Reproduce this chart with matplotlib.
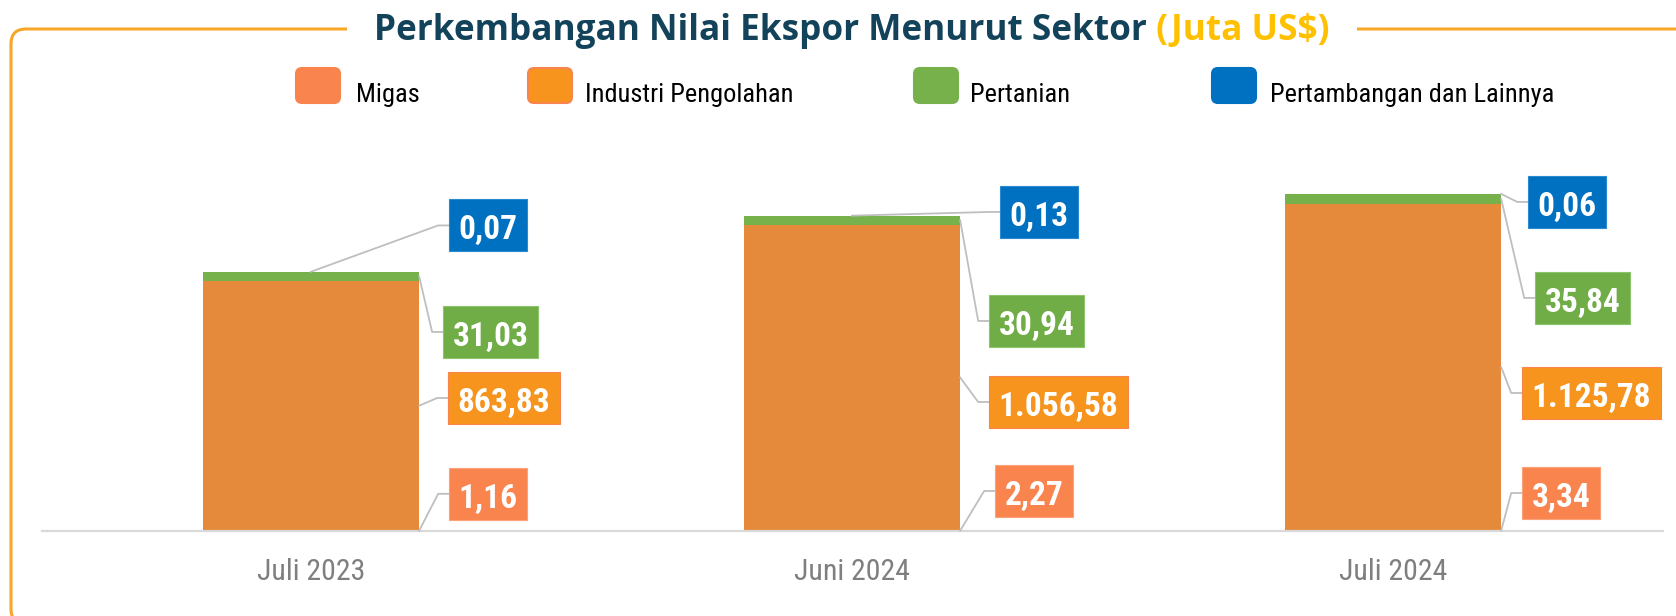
import matplotlib
matplotlib.use("Agg")
import matplotlib.pyplot as plt
from matplotlib.patches import FancyBboxPatch, Rectangle
from matplotlib.lines import Line2D
from matplotlib.transforms import IdentityTransform

# ---------------- data ----------------
categories = ["Juli 2023", "Juni 2024", "Juli 2024"]
series_names = ["Migas", "Industri Pengolahan", "Pertanian", "Pertambangan dan Lainnya"]
migas = [1.16, 2.27, 3.34]
industri = [863.83, 1056.58, 1125.78]
pertanian = [31.03, 30.94, 35.84]
pertambangan = [0.07, 0.13, 0.06]
title_main = "Perkembangan Nilai Ekspor Menurut Sektor"
title_unit = " (Juta US$)"

# ---------------- style / layout ----------------
W, H, DPI = 1676, 616, 100
NARROW = ["Roboto Condensed", "DejaVu Sans"]
bar_colors = ["#F9844E", "#E48A3A", "#76B14C", "#0070C0"]
box_colors = ["#F9844E", "#F7941D", "#70AD47", "#0070C0"]
box_edges = ["#FBA27A", "#F9844E", "#8CC46A", "#2A8AD0"]
legend_face = ["#F9844E", "#F7941D", "#76B14C", "#0070C0"]
legend_edge = ["#F9844E", "#F9844E", "#76B14C", "#0070C0"]
frame_color = "#F8A62A"
title_color = "#12435A"
unit_color = "#FFC000"

# label offsets (pixels): dx from bar right edge, dy from anchor (up positive)
label_dx = [[30, 35, 21], [29, 29, 21], [24, 29, 34], [30, 40, 27]]
label_dy = [[37, 39.7, 37.5], [7.7, -24.5, -25.8], [-55.7, -100.8, -98.8], [46.3, 3.7, -8]]
anchor_center = [[False] * 3, [False] * 3, [False] * 3, [True, True, False]]
PADX, BOX_H, ELBOW = 9.5, 52, 11
LABEL_FS = 24

ID = IdentityTransform()


def Y(y_img):
    return H - y_img


def fmt_id(v):
    s = f"{v:,.2f}"
    return s.replace(",", "_").replace(".", ",").replace("_", ".")


fig = plt.figure(figsize=(W / DPI, H / DPI), dpi=DPI)

# frame
frame = FancyBboxPatch((11, Y(624)), 1720, 624 - 29, boxstyle="round,pad=0,rounding_size=15",
                       transform=ID, fill=False, edgecolor=frame_color, lw=2.2, zorder=1)
fig.add_artist(frame)
fig.add_artist(Rectangle((347, Y(48)), 1357 - 347, 36, transform=ID, facecolor="white",
                         edgecolor="none", zorder=2))

# axes
ax_l, ax_r, ax_b, ax_t = 42, 1663, 531, 130
ax = fig.add_axes([ax_l / W, (H - ax_b) / H, (ax_r - ax_l) / W, (ax_b - ax_t) / H])
ax.set_xlim(-0.497, 2.499)
ax.set_ylim(0, 1386)
ax.patch.set_alpha(0)

series = [migas, industri, pertanian, pertambangan]
x = list(range(len(categories)))
bw = 0.4
bottoms = [0.0] * len(categories)
seg_bottoms = []
for j, vals in enumerate(series):
    ax.bar(x, vals, width=bw, bottom=bottoms, color=bar_colors[j], edgecolor="none", zorder=2)
    seg_bottoms.append(list(bottoms))
    bottoms = [b + v for b, v in zip(bottoms, vals)]

for s in ["top", "left", "right"]:
    ax.spines[s].set_visible(False)
ax.spines["bottom"].set_color("#D9D9D9")
ax.spines["bottom"].set_linewidth(1.6)
ax.set_yticks([])
ax.set_xticks(x)
ax.set_xticklabels(categories, fontsize=21.5, color="#7F7F7F", family=NARROW)
ax.tick_params(axis="x", length=0, pad=19.5)

# data labels
label_texts = []
fs_px = LABEL_FS * DPI / 72.0
for j, vals in enumerate(series):
    for i, v in enumerate(vals):
        if anchor_center[j][i]:
            ax_x = i
            ay = seg_bottoms[j][i] + v
        else:
            ax_x = i + bw / 2
            ay = seg_bottoms[j][i] + v / 2
        px, py = ax.transData.transform((ax_x, ay))
        right_px = ax.transData.transform((i + bw / 2, 0))[0]
        box_left = right_px + label_dx[j][i]
        cy = py + label_dy[j][i]
        ln = Line2D([px, box_left - ELBOW, box_left], [py, cy, cy], transform=ID,
                    color="#BFBFBF", lw=1.3, zorder=3)
        fig.add_artist(ln)
        t = fig.text(box_left + PADX, cy - 0.355 * fs_px - 2, fmt_id(v), transform=ID,
                     fontsize=LABEL_FS, fontweight="bold", family=NARROW, color="white",
                     ha="left", va="baseline", zorder=5)
        label_texts.append((t, box_left, cy, j))

# legend
leg_patch_x = [296, 528, 914, 1212]
leg_text_x = [356, 585, 970, 1270]
for j, name in enumerate(series_names):
    p = FancyBboxPatch((leg_patch_x[j], Y(103)), 44, 35, boxstyle="round,pad=0,rounding_size=6",
                       transform=ID, facecolor=legend_face[j], edgecolor=legend_edge[j],
                       lw=1.5, zorder=3)
    fig.add_artist(p)
    fig.text(leg_text_x[j], Y(102), name, transform=ID, fontsize=19, family=NARROW,
             color="black", ha="left", va="baseline", zorder=3)

# title
t1 = fig.text(0, Y(40), title_main, transform=ID, fontsize=24, fontweight="bold",
              family=["Open Sans", "DejaVu Sans"], color=title_color, va="baseline", zorder=4)
t2 = fig.text(0, Y(40), title_unit, transform=ID, fontsize=24, fontweight="bold",
              family=["Open Sans", "DejaVu Sans"], color=unit_color, va="baseline", zorder=4)

fig.canvas.draw()
r = fig.canvas.get_renderer()
target = 957.0
w_tot = t1.get_window_extent(r).width + t2.get_window_extent(r).width
fs = 24 * target / w_tot
t1.set_fontsize(fs)
t2.set_fontsize(fs)
fig.canvas.draw()
w1 = t1.get_window_extent(r).width
w2 = t2.get_window_extent(r).width
x0 = 852 - (w1 + w2) / 2
t1.set_x(x0)
t2.set_x(x0 + w1)

for t, box_left, cy, j in label_texts:
    w = t.get_window_extent(r).width
    rect = Rectangle((box_left, cy - BOX_H / 2), w + 2 * PADX, BOX_H, transform=ID,
                     facecolor=box_colors[j], edgecolor=box_edges[j], lw=0.8, zorder=4)
    fig.add_artist(rect)

fig.savefig("out.png", dpi=DPI)
